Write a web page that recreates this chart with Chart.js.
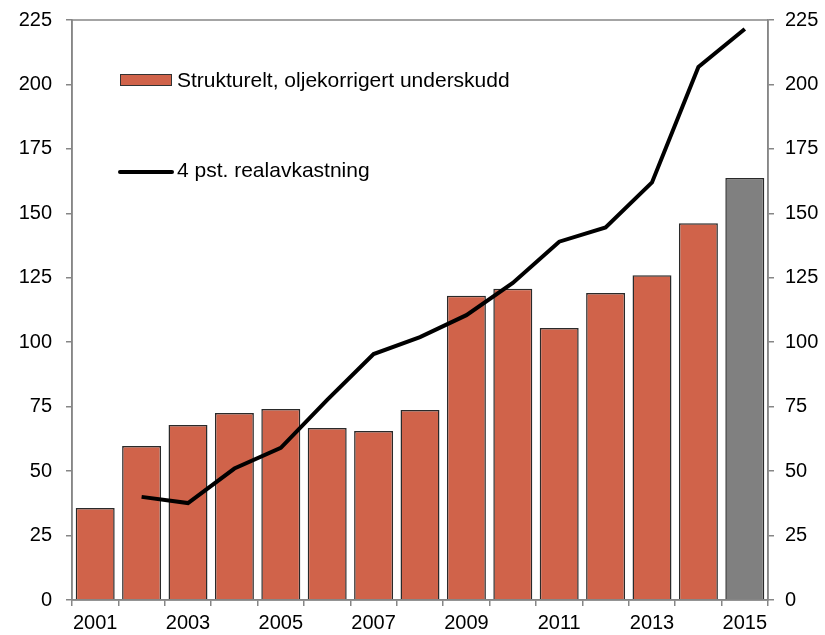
<!DOCTYPE html>
<html><head><meta charset="utf-8">
<script src="https://cdn.jsdelivr.net/npm/chart.js@4.4.1/dist/chart.umd.min.js"></script>
<style>html,body{margin:0;padding:0;background:#fff;}#wrap{width:825px;height:635px;}</style>
</head><body><div id="wrap"><canvas id="c" width="825" height="635"></canvas></div>
<script>
const years = ['2001','2002','2003','2004','2005','2006','2007','2008','2009','2010','2011','2012','2013','2014','2015'];
const underskudd = [35.7, 59.7, 67.9, 72.5, 74.1, 66.7, 65.6, 73.7, 118, 120.7, 105.5, 119.1, 126, 146.2, 163.7];
const realavkastning = [null, 40, 37.6, 51, 59, 77.6, 95.4, 102, 110.5, 123, 139, 144.5, 162, 206.8, 221.5];
const yTicks = [0,25,50,75,100,125,150,175,200,225];
const labelBar = 'Strukturelt, oljekorrigert underskudd';
const labelLine = '4 pst. realavkastning';

const FONT = "'Liberation Sans', Arial, sans-serif";
const AX = '#868686';
const BAR = '#D0634A';
const barColors = years.map((y,i)=> i===years.length-1 ? '#808080' : BAR);

const boxPlugin = {
  id:'box',
  afterDraw(chart){
    const {ctx, chartArea:a} = chart;
    ctx.save();
    ctx.strokeStyle = AX; ctx.lineWidth = 1.5;
    ctx.strokeRect(a.left, a.top, a.right-a.left, a.bottom-a.top);
    // legend
    ctx.font = "21px " + FONT;
    ctx.textBaseline = 'middle';
    ctx.fillStyle = BAR;
    ctx.fillRect(120, 74, 52, 12);
    ctx.strokeStyle = '#333'; ctx.lineWidth = 1;
    ctx.strokeRect(120.5, 74.5, 51, 11);
    ctx.fillStyle = '#000';
    ctx.fillText(labelBar, 177, 81);
    ctx.strokeStyle = '#000'; ctx.lineWidth = 4; ctx.lineCap='round';
    ctx.beginPath(); ctx.moveTo(120, 172); ctx.lineTo(172, 172); ctx.stroke();
    ctx.fillText(labelLine, 177, 171);
    ctx.restore();
  }
};

function fitY(w){ return function(s){ s.width = w; s.paddingTop = 0; s.paddingBottom = 0; }; }

new Chart(document.getElementById('c'), {
  data:{
    labels: years,
    datasets:[
      {type:'line', label:labelLine, data:realavkastning, borderColor:'#000', borderWidth:4, pointRadius:0, fill:false, tension:0, yAxisID:'y', order:0, spanGaps:false},
      {type:'bar', label:labelBar, data:underskudd, backgroundColor:barColors, borderColor:'#2a2a2a', borderWidth:1.5, barPercentage:0.84, categoryPercentage:1, yAxisID:'y', order:1}
    ]
  },
  options:{
    responsive:false, animation:false,
    layout:{padding:{top:20,left:0,right:0,bottom:0}},
    plugins:{legend:{display:false}, tooltip:{enabled:false}},
    scales:{
      x:{
        offset:true,
        grid:{offset:true, drawOnChartArea:false, color:AX, tickLength:6, lineWidth:1.5},
        border:{color:AX, width:1.5},
        ticks:{autoSkip:false, maxRotation:0, color:'#000', font:{size:20, family:FONT}, padding:5,
          callback:function(v,i){return i%2===0 ? years[i] : '';}},
        afterFit(s){ s.height = 35; s.paddingLeft = 0; s.paddingRight = 0; }
      },
      y:{
        position:'left', min:0, max:225,
        afterBuildTicks(s){ s.ticks = yTicks.map(v=>({value:v})); },
        grid:{drawOnChartArea:false, color:AX, tickLength:6, lineWidth:1.5},
        border:{color:AX, width:1.5},
        ticks:{color:'#000', font:{size:20, family:FONT}, padding:14},
        afterFit: fitY(72)
      },
      y2:{
        position:'right', min:0, max:225,
        afterBuildTicks(s){ s.ticks = yTicks.map(v=>({value:v})); },
        grid:{drawOnChartArea:false, color:AX, tickLength:6, lineWidth:1.5},
        border:{color:AX, width:1.5},
        ticks:{color:'#000', font:{size:20, family:FONT}, padding:11},
        afterFit: fitY(57)
      }
    }
  },
  plugins:[boxPlugin]
});
</script></body></html>
